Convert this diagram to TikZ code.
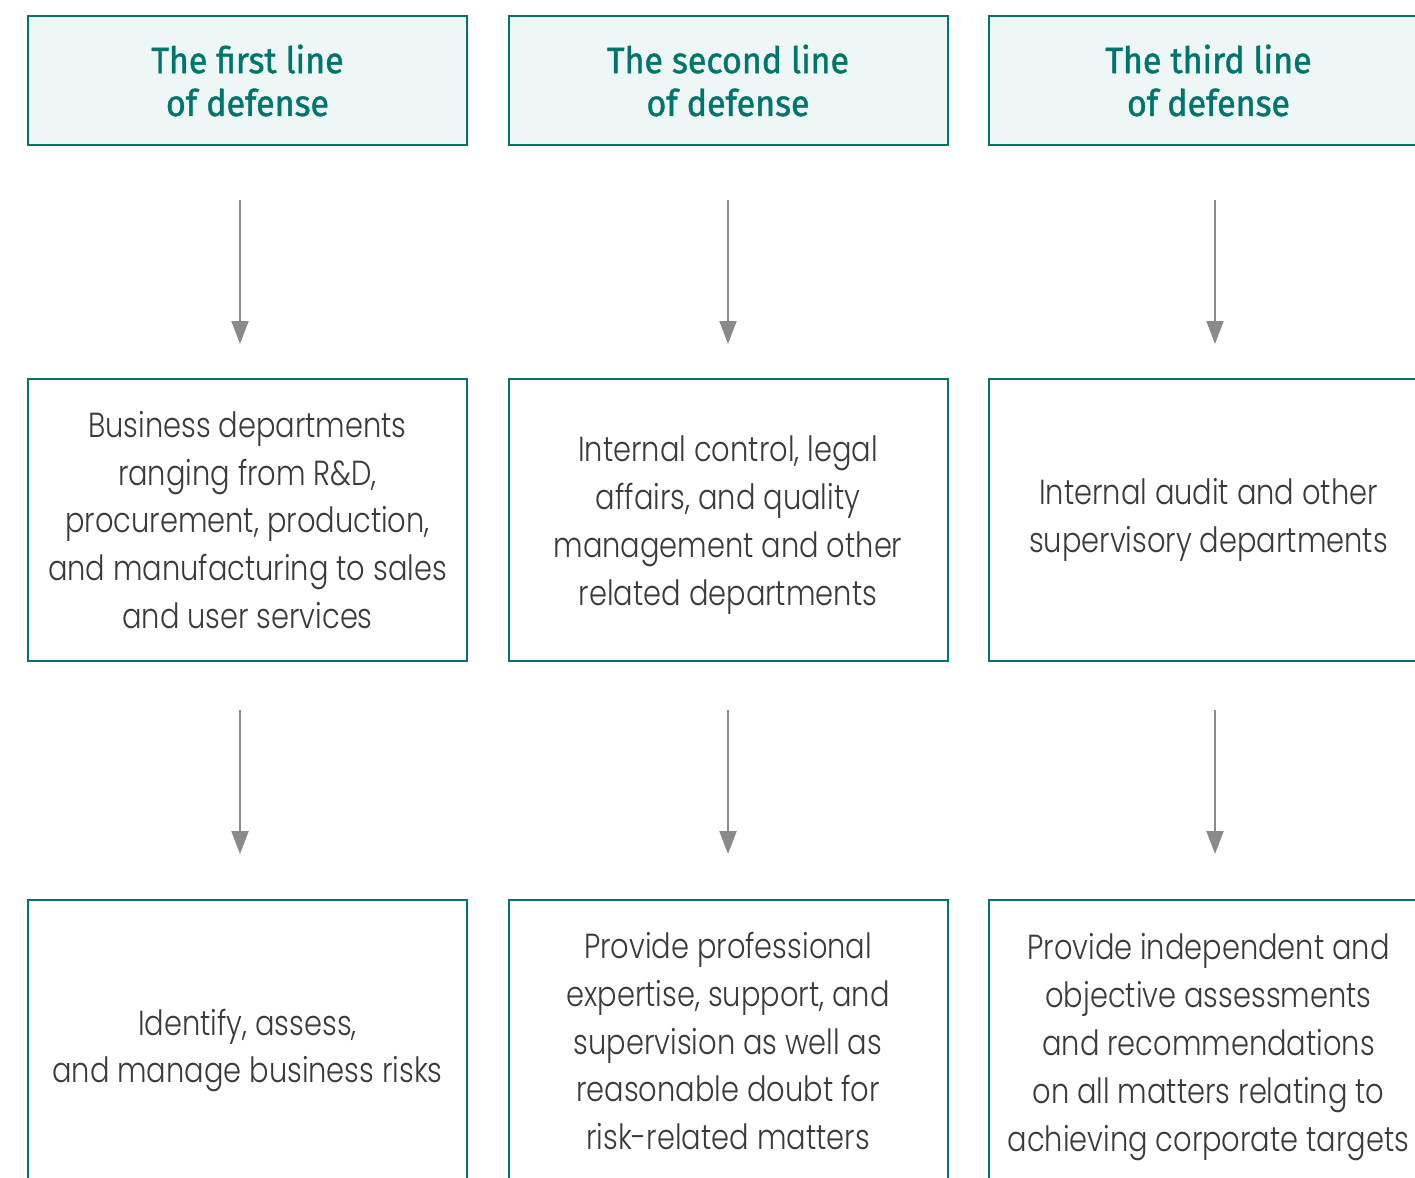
\documentclass[tikz,border=0pt]{standalone}
\usepackage{fontspec}
\usetikzlibrary{arrows.meta}
\newfontfamily\headfont{Fira Sans}[FakeBold=1.2,FakeStretch=0.93]
\newfontfamily\bodyfont{Poppins Light}[FakeStretch=0.83]
\definecolor{lineteal}{HTML}{00766B}
\definecolor{headfill}{HTML}{EFF6F6}
\definecolor{bodytext}{HTML}{3A3A3A}
\definecolor{arrowgray}{HTML}{8A8A8A}
% lower a block of lines inside its box without changing the box size
\newcommand{\lowerlines}[2]{\raisebox{-#1}[\height][\depth]{\begin{tabular}{@{}c@{}}#2\end{tabular}}}
\tikzset{
  head/.style={draw=lineteal, line width=0.02cm, fill=headfill, text=lineteal,
    minimum width=4.39cm, minimum height=1.29cm, align=center,
    font=\headfont\fontsize{10.4}{12.2}\selectfont},
  dept/.style={draw=lineteal, line width=0.02cm, text=bodytext,
    minimum width=4.39cm, minimum height=2.82cm, align=center,
    font=\bodyfont\fontsize{9.9}{13.6}\selectfont},
  flow/.style={draw=arrowgray, line width=0.02cm,
    -{Triangle[width=0.17cm, length=0.23cm]}}
}
\begin{document}
\begin{tikzpicture}
\useasboundingbox (0,0) rectangle (14.15,-11.77);
\clip (0,0) rectangle (14.15,-11.77);

% header row
\node[head] (t1) at (2.475,-0.805) {The first line\\of defense};
\node[head] (t2) at (7.28,-0.805) {The second line\\of defense};
\node[head] (t3) at (12.085,-0.805) {The third line\\of defense};

% departments
\node[dept] (d1) at (2.475,-5.20) {Business departments\\ranging from R\&D,\\procurement, production,\\and manufacturing to sales\\and user services};
\node[dept] (d2) at (7.28,-5.20) {\lowerlines{0.04cm}{Internal control, legal\\affairs, and quality\\management and other\\related departments}};
\node[dept] (d3) at (12.085,-5.20) {Internal audit and other\\supervisory departments};

% duties
\node[dept] (r1) at (2.475,-10.41) {\lowerlines{0.085cm}{Identify, assess,\\and manage business risks}};
\node[dept] (r2) at (7.28,-10.41) {Provide professional\\expertise, support, and\\supervision as well as\\reasonable doubt for\\risk-related matters};
\node[dept] (r3) at (12.085,-10.41) {\lowerlines{0.05cm}{Provide independent and\\objective assessments\\and recommendations\\on all matters relating to\\achieving corporate targets}};

% arrows between rows
\draw[flow, shorten <=0.54cm, shorten >=0.34cm] ([xshift=-0.075cm]t1.south) -- ([xshift=-0.075cm]d1.north);
\draw[flow, shorten <=0.54cm, shorten >=0.34cm] (t2.south) -- (d2.north);
\draw[flow, shorten <=0.54cm, shorten >=0.34cm] ([xshift=0.065cm]t3.south) -- ([xshift=0.065cm]d3.north);
\draw[flow, shorten <=0.48cm, shorten >=0.45cm] ([xshift=-0.075cm]d1.south) -- ([xshift=-0.075cm]r1.north);
\draw[flow, shorten <=0.48cm, shorten >=0.45cm] (d2.south) -- (r2.north);
\draw[flow, shorten <=0.48cm, shorten >=0.45cm] ([xshift=0.065cm]d3.south) -- ([xshift=0.065cm]r3.north);
\end{tikzpicture}
\end{document}
